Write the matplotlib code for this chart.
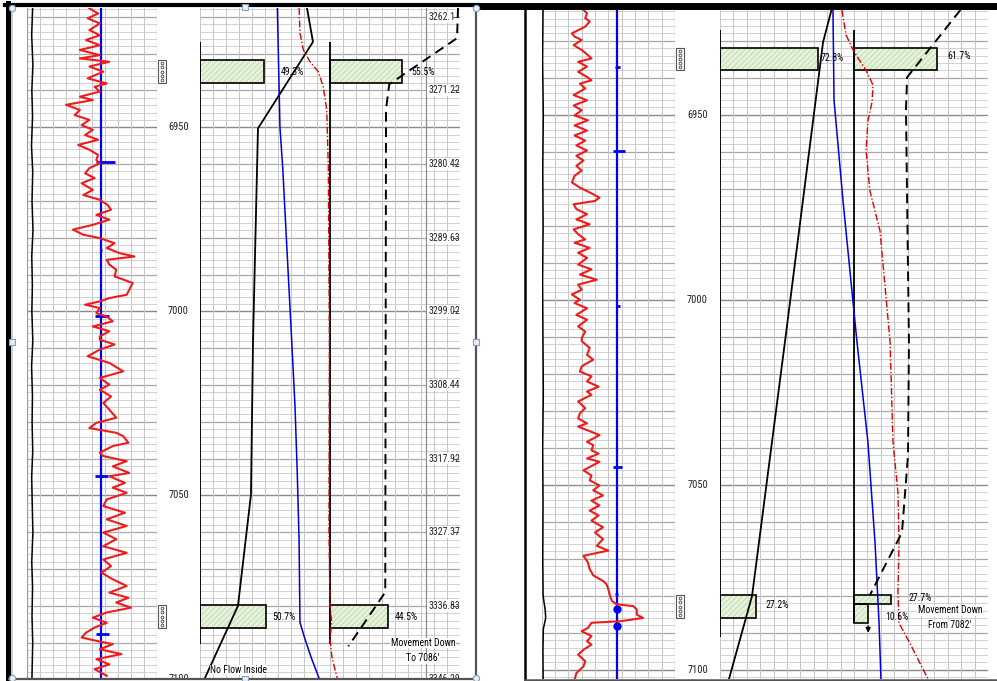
import numpy as np
import matplotlib.pyplot as plt
from matplotlib import font_manager
from matplotlib.patches import Rectangle
from matplotlib.lines import Line2D

# narrow face for the log annotations if one is installed
_names = {f.name for f in font_manager.fontManager.ttflist}
_narrow = [n for n in ['Liberation Sans Narrow', 'Arial Narrow', 'Roboto Condensed',
                       'Open Sans Condensed', 'Noto Sans Condensed'] if n in _names]
if _narrow:
    plt.rcParams['font.family'] = [_narrow[0], 'Liberation Sans', 'DejaVu Sans']
    FS_DEPTH, FS_SEC, FS_TXT = 7.5, 7, 7
else:
    plt.rcParams['font.family'] = ['Liberation Sans', 'DejaVu Sans']
    FS_DEPTH, FS_SEC, FS_TXT = 6.6, 5.8, 6.3
plt.rcParams['hatch.linewidth'] = 0.5

W, H = 997, 681

# ---------------- left log (run 1) ----------------
gr_L_depth = [6917.7, 6919.1, 6920.4, 6921.8, 6923.6, 6925.0, 6926.3, 6927.7, 6929.0, 6930.4,
              6931.3, 6932.2, 6933.5, 6934.9, 6936.7, 6938.1, 6939.0, 6940.3, 6941.7, 6942.6,
              6943.9, 6945.3, 6946.7, 6948.0, 6949.4, 6950.7, 6952.1, 6953.4, 6954.8, 6956.1,
              6957.5, 6958.9, 6959.8, 6961.1, 6962.5, 6963.8, 6965.2, 6967.0, 6968.4, 6969.7,
              6971.1, 6972.4, 6973.8, 6975.1, 6976.5, 6977.8, 6979.2, 6980.1, 6981.5, 6982.8,
              6984.2, 6985.1, 6986.0, 6987.3, 6988.7, 6990.5, 6992.3, 6994.1, 6995.5, 6996.4,
              6997.3, 6998.2, 6999.1, 7000.5, 7001.4, 7002.7, 7004.1, 7005.4, 7006.8,
              7007.7, 7009.0, 7010.4, 7012.2, 7014.0, 7016.3, 7018.1, 7019.9, 7021.3, 7023.1,
              7024.9, 7026.7, 7028.9, 7030.3, 7031.7, 7033.0, 7033.9, 7035.7, 7036.6, 7038.4,
              7039.3, 7040.7, 7042.1, 7043.9, 7044.8, 7046.6, 7047.9, 7049.3, 7051.1, 7052.9,
              7054.7, 7056.5, 7058.3, 7060.1, 7061.9, 7063.8, 7065.6, 7067.4, 7069.2, 7071.0,
              7072.8, 7074.6, 7076.4, 7077.8, 7079.1, 7080.5, 7081.8, 7083.2, 7084.6, 7085.9,
              7087.3, 7088.6, 7089.5, 7090.4, 7091.8, 7093.1, 7094.5, 7095.9, 7097.2, 7099.0]
gr_L = [72, 82, 70, 84, 72, 84, 68, 84, 61, 84,
        61, 95, 72, 88, 70, 92, 78, 84, 61, 76,
        45, 61, 55, 72, 63, 76, 67, 82, 59, 72,
        82, 80, 84, 72, 67, 78, 63, 76, 65, 84,
        93, 97, 80, 95, 76, 53, 65, 84, 101, 92,
        107, 124, 92, 95, 103, 101, 122, 118, 115, 95,
        84, 67, 84, 80, 92, 99, 76, 95, 84,
        84, 101, 84, 70, 95, 111, 84, 95, 84, 97,
        88, 95, 103, 80, 72, 103, 111, 117, 99, 84,
        88, 115, 99, 118, 95, 113, 99, 115, 92, 88,
        113, 92, 115, 88, 103, 88, 115, 88, 97, 86,
        99, 115, 95, 117, 103, 120, 92, 76, 92, 78,
        68, 63, 80, 99, 84, 109, 80, 95, 78, 92]
cal_L_depth = [6917.6, 6925, 6933, 6940, 6947, 6955, 6962, 6970, 6978, 6985, 6993, 7000, 7008,
               7015, 7023, 7030, 7038, 7045, 7053, 7060, 7068, 7075, 7083, 7090, 7099.6]
cal_L = [6.5, 5.4, 6.8, 5.6, 6.4, 5.2, 6.6, 5.8, 6.9, 5.5, 6.2, 5.6, 6.7,
         5.3, 6.3, 5.9, 6.6, 5.4, 6.1, 6.8, 5.5, 6.4, 5.8, 6.6, 5.7]
ccl_L_base = 85
ccl_L_depth = [6959.3, 6983.3, 7001.4, 7044.6, 7087.7]
ccl_L_lo = [80, 84, 78, 78, 80]
ccl_L_hi = [101, 87, 95, 93, 95]

bar_L_top = [6931.7, 7079.9, 6931.7, 7079.9]
bar_L_bot = [6938.0, 7085.9, 6938.0, 7085.9]
bar_L_pct = [49.3, 50.7, 55.5, 44.5]
bar_L_grp = [0, 0, 1, 1]

solid_L_depth = [6917.6, 6926.8, 6950.3, 7007.7, 7049.8, 7080.0, 7099.6]
solid_L = [82.3, 86.9, 44.6, 40.8, 39.2, 29.2, 3.8]
blue_L_depth = [6917.6, 6950.0, 6960.8, 7007.7, 7025.9, 7043.8, 7062.0, 7084.5, 7089.1, 7094.0, 7099.6]
blue_L = [59.5, 61.5, 63.6, 70.5, 73.1, 74.8, 76.2, 76.9, 80.8, 85.5, 91.5]
red_L_depth = [6917.6, 6924.4, 6929.0, 6932.2, 6934.9, 6939.0, 6945.3, 6960.7, 7007.7, 7060.0,
               7080.2, 7084.5, 7089.1, 7094.0, 7099.6]
red_L = [76.2, 76.9, 79.5, 84.6, 91.0, 94.8, 97.5, 98.7, 99.5, 99.2, 100.0, 101.3, 100.0, 101.5, 105.5]
dash_L_depth = [6917.6, 6925.8, 6938.3, 6945.0, 7076.3, 7091.0]
dash_L = [198.5, 197.7, 145.6, 143.1, 142.5, 114.1]

sec_depth = [6920, 6940, 6960, 6980, 7000, 7020, 7040, 7060, 7080, 7100]
sec_labels = ['3262.1', '3271.22', '3280.42', '3289.63', '3299.02', '3308.44',
              '3317.92', '3327.37', '3336.83', '3346.29']

# ---------------- right log (run 2) ----------------
gr_R_depth = [6921.2, 6922.6, 6923.9, 6924.8, 6926.2, 6928.0, 6928.9, 6929.8, 6931.2, 6932.5,
              6933.9, 6934.8, 6935.7, 6937.0, 6938.4, 6939.8, 6940.7, 6941.6, 6942.9, 6944.7,
              6946.1, 6947.5, 6948.8, 6950.2, 6951.5, 6952.9, 6954.3, 6955.6, 6957.0, 6958.3,
              6959.7, 6961.1, 6962.4, 6963.8, 6965.1, 6966.5, 6968.3, 6969.7, 6971.0, 6972.4,
              6973.3, 6974.2, 6975.5, 6976.9, 6978.3, 6979.6, 6981.0, 6982.3, 6983.7, 6984.6,
              6986.0, 6987.3, 6988.7, 6990.5, 6991.8, 6993.2, 6994.6, 6995.9, 6997.3, 6998.6,
              7000.0, 7000.9, 7002.3, 7004.1, 7005.4, 7007.2, 7008.6, 7010.4,
              7011.2, 7013.0, 7014.9, 7016.2, 7018.0, 7019.4, 7020.7, 7022.1, 7023.5, 7024.8,
              7025.7, 7027.5, 7029.3, 7030.7, 7032.1, 7033.4, 7034.3, 7035.7, 7036.6, 7038.4,
              7039.3, 7040.7, 7041.6, 7042.9, 7043.8, 7046.1, 7047.5, 7048.8, 7050.2, 7051.5,
              7052.9, 7054.3, 7055.6, 7057.0, 7058.3, 7059.7, 7061.5, 7062.9, 7064.7, 7066.5,
              7067.8, 7069.2, 7071.0, 7072.8, 7074.5, 7076.0, 7076.9, 7078.3, 7080.1, 7081.4,
              7082.3, 7082.8, 7083.7, 7085.1, 7086.0, 7086.9, 7087.3, 7088.7, 7089.6, 7090.9,
              7092.3, 7093.2, 7094.6, 7095.9, 7097.7, 7099.1, 7100.9, 7102.7]
gr_R = [45, 51, 49, 54, 49, 34, 37, 45, 36, 45,
        52, 56, 41, 51, 41, 51, 56, 43, 49, 36,
        51, 36, 45, 37, 52, 37, 51, 37, 49, 39,
        51, 39, 47, 39, 45, 37, 34, 43, 54, 65,
        60, 36, 39, 51, 39, 54, 36, 41, 49, 37,
        54, 41, 51, 41, 56, 43, 62, 41, 45, 34,
        43, 37, 51, 39, 51, 41, 49, 45,
        45, 54, 51, 58, 45, 43, 56, 51, 64, 51,
        56, 41, 49, 43, 41, 51, 41, 56, 65, 51,
        58, 56, 64, 51, 65, 47, 56, 54, 65, 58,
        69, 56, 65, 54, 64, 56, 69, 60, 69, 62,
        75, 47, 52, 54, 58, 69, 73, 75, 77, 79,
        84, 103, 107, 107, 114, 88, 56, 52, 45, 56,
        51, 56, 47, 41, 49, 47, 39, 37]
cal_R_depth = [6921.7, 6935, 6950, 6965, 6980, 6995, 7010, 7025, 7040, 7055, 7070, 7080,
               7084, 7086, 7089, 7095, 7102.5]
cal_R = [1.5, 1.0, 1.8, 1.2, 1.6, 1.0, 1.4, 1.8, 1.1, 1.5, 1.2, 1.6, 4.0, 4.5, 1.8, 1.4, 1.6]
ccl_R_base = 84.3
ccl_R_depth = [6937.0, 6959.7, 7001.8, 7045.2, 7079.6]
ccl_R_lo = [82, 80.5, 83.5, 80.5, 83]
ccl_R_hi = [88, 93.6, 88, 90, 86]
ccl_R_blob = [7083.7, 7088.2]

bar_R_top = [6932.0, 7079.8, 6932.0, 7079.8, 7082.3]
bar_R_bot = [6938.0, 7086.1, 6938.0, 7082.3, 7087.4]
bar_R_pct = [72.8, 27.2, 61.7, 27.7, 10.6]
bar_R_grp = [0, 0, 1, 1, 1]

solid_R_depth = [6921.7, 6930.4, 7011.3, 7080.1, 7102.5]
solid_R = [83.2, 76.9, 48.5, 23.9, 6.7]
blue_R_depth = [6921.7, 6946.1, 6973.3, 7011.3, 7038.5, 7065.7, 7087.4, 7102.5]
blue_R = [84.3, 85.1, 91.8, 102.2, 110.4, 115.7, 118.7, 120.1]
red_R_depth = [6921.7, 6928.4, 6933.0, 6938.0, 6942.0, 6946.5, 6951.6, 6959.7, 6970.6, 6981.4,
               7011.3, 7038.5, 7052.1, 7065.7, 7079.3, 7087.4, 7092.9, 7102.5]
red_R = [91.0, 94.0, 100.0, 109.0, 114.2, 113.5, 110.4, 109.0, 111.9, 119.4,
         126.9, 129.1, 132.8, 133.6, 132.8, 133.6, 141.8, 155.2]
dash_R_depth = [6921.7, 6939.9, 6948.8, 7011.3, 7042.0, 7062.9, 7079.8]
dash_R = [179.4, 139.6, 138.8, 141.0, 140.3, 135.8, 111.9]

depth_labels = [6950, 7000, 7050, 7100]


def box(x0, y0, x1, y1):
    return [x0 / W, 1 - y1 / H, (x1 - x0) / W, (y1 - y0) / H]


def grid_track(ax, dtop, dbot, xmax, xstep):
    ax.set_xlim(0, xmax)
    ax.set_ylim(dbot, dtop)
    for d in range(int(dtop) // 2 * 2 + 2, int(dbot) + 1, 2):
        if d % 50 == 0:
            c, lw = '#8a8a8a', 1.0
        elif d % 10 == 0:
            c, lw = '#a8a8a8', 0.9
        else:
            c, lw = '#d2d2d2', 0.7
        ax.axhline(d, color=c, lw=lw, zorder=0)
    for x in np.arange(0, xmax + 0.01, xstep):
        ax.axvline(x, color='#c6c6c6', lw=0.7, zorder=0)
    ax.set_xticks([])
    ax.set_yticks([])
    for s in ax.spines.values():
        s.set_visible(False)


def depth_col(ax, dtop, dbot, perf_top, perf_bot):
    ax.set_xlim(0, 1)
    ax.set_ylim(dbot, dtop)
    ax.axis('off')
    for d in depth_labels:
        ax.text(0.5, d, str(d), ha='center', va='center', fontsize=FS_DEPTH, color='#222222', clip_on=True)
    for t, b in zip(perf_top, perf_bot):
        ax.add_patch(Rectangle((0.03, t), 0.17, b - t, facecolor='white', edgecolor='#555555', lw=0.8))
        ax.plot([0.115] * 5, np.linspace(t + 0.8, b - 0.8, 5), 'o', ms=2.0,
                mfc='white', mec='#444444', mew=0.6)


def bars(ax, top, bot, pct, grp):
    top = np.array(top)
    bot = np.array(bot)
    ctr = (top + bot) / 2
    hgt = bot - top
    left = np.array(grp) * 100
    ax.barh(ctr, pct, hgt, left=left, color='#e6f2dc', edgecolor='#b5d69c', hatch='//////', lw=0, zorder=2)
    ax.barh(ctr, pct, hgt, left=left, fill=False, edgecolor='black', lw=1.2, zorder=3)


fig = plt.figure(figsize=(W / 100, H / 100), dpi=100)

# ======== left panel ========
dL0, dL1 = 6917.6, 7099.6
a1 = fig.add_axes(box(27, 8, 157, 678))
grid_track(a1, dL0, dL1, 150, 15)
a1.plot(cal_L, cal_L_depth, color='black', lw=1.1)
a1.axvline(ccl_L_base, color='#0000ee', lw=1.6, zorder=3)
a1.hlines(ccl_L_depth, ccl_L_lo, ccl_L_hi, color='#0000ee', lw=2.0, zorder=3)
a1.plot(gr_L, gr_L_depth, color='#ee1c1c', lw=1.5, zorder=4)
a1.axvline(0, color='#9a9a9a', lw=0.9)
a1.axvline(150, color='#9a9a9a', lw=0.9)

ad = fig.add_axes(box(157, 8, 200, 678))
depth_col(ad, dL0, dL1, bar_L_top[:2], bar_L_bot[:2])

a2 = fig.add_axes(box(200, 8, 460, 678))
grid_track(a2, dL0, dL1, 200, 10)
a2.axvline(173.8, color='#8a8a8a', lw=0.9, zorder=1)
for d, s in zip(sec_depth, sec_labels):
    a2.text(175.5, d, s, ha='left', va='center', fontsize=FS_SEC, color='#222222', clip_on=True,
            bbox=dict(facecolor='white', edgecolor='none', pad=0.6), zorder=1.5)
    a2.plot([194.5, 198.5], [d, d], color='#555555', lw=0.8, zorder=1.6)
bars(a2, bar_L_top, bar_L_bot, bar_L_pct, bar_L_grp)
a2.vlines([0, 100], 6926.8, 7090.4, color='black', lw=1.3, zorder=3)
a2.plot(solid_L, solid_L_depth, color='black', lw=1.3, zorder=5)
a2.plot(blue_L, blue_L_depth, color='#0000dd', lw=1.1, zorder=5)
a2.plot(red_L, red_L_depth, color='#e00000', lw=1.0, ls=(0, (5, 1.5, 1, 1.5)), zorder=5)
a2.plot(dash_L, dash_L_depth, color='black', lw=1.4, ls=(0, (5, 3)), zorder=5)
lab_gap_L = [12.7, 4.5, 7, 5.5]
for t, b, p, g, o in zip(bar_L_top, bar_L_bot, bar_L_pct, bar_L_grp, lab_gap_L):
    a2.text(g * 100 + p + o, (t + b) / 2, f'{p}%', ha='left', va='center', fontsize=FS_TXT, zorder=6)
a2.text(171.5, 7090.1, 'Movement Down', ha='center', va='center', fontsize=FS_TXT,
        bbox=dict(facecolor='white', edgecolor='none', pad=0.3), zorder=6)
a2.text(171.5, 7094.3, "To 7086'", ha='center', va='center', fontsize=FS_TXT,
        bbox=dict(facecolor='white', edgecolor='none', pad=0.3), zorder=6)
a2.text(7.7, 7097.4, 'No Flow Inside', ha='left', va='center', fontsize=FS_TXT,
        bbox=dict(facecolor='white', edgecolor='none', pad=0.3), zorder=6)

# ======== right panel ========
dR0, dR1 = 6921.7, 7102.5
b1 = fig.add_axes(box(541.7, 10, 675, 679))
grid_track(b1, dR0, dR1, 150, 15)
b1.plot(cal_R, cal_R_depth, color='black', lw=1.1)
b1.axvline(ccl_R_base, color='#0000ee', lw=1.6, zorder=3)
b1.hlines(ccl_R_depth, ccl_R_lo, ccl_R_hi, color='#0000ee', lw=2.0, zorder=3)
b1.plot([ccl_R_base] * len(ccl_R_blob), ccl_R_blob, 'o', color='#0000ee', ms=5, zorder=3)
b1.plot(gr_R, gr_R_depth, color='#ee1c1c', lw=1.5, zorder=4)
b1.axvline(150, color='#9a9a9a', lw=0.9)

bd = fig.add_axes(box(675, 10, 720, 679))
depth_col(bd, dR0, dR1, bar_R_top[:2], bar_R_bot[:2])

b2 = fig.add_axes(box(720, 10, 988, 679))
grid_track(b2, dR0, dR1, 200, 10)
bars(b2, bar_R_top, bar_R_bot, bar_R_pct, bar_R_grp)
b2.vlines([0], 6927.1, 7091.2, color='black', lw=1.3, zorder=3)
b2.vlines([100], 6927.1, 7087.4, color='black', lw=1.3, zorder=3)
b2.plot(solid_R, solid_R_depth, color='black', lw=1.3, zorder=5)
b2.plot(blue_R, blue_R_depth, color='#0000dd', lw=1.1, zorder=5)
b2.plot(red_R, red_R_depth, color='#e00000', lw=1.0, ls=(0, (5, 1.5, 1, 1.5)), zorder=5)
b2.plot(dash_R, dash_R_depth, color='black', lw=1.4, ls=(0, (5, 3)), zorder=5)
lab_gap_R = [2.3, 7, 8, 13, 13]
lab_d_R = [6934.7, 7082.5, 6934.2, 7080.6, 7085.7]
for p, g, o, d in zip(bar_R_pct, bar_R_grp, lab_gap_R, lab_d_R):
    b2.text(g * 100 + p + o, d, f'{p}%', ha='left', va='center', fontsize=FS_TXT, zorder=6)
b2.annotate('', xy=(100 + bar_R_pct[-1], 7090.8), xytext=(100 + bar_R_pct[-1], bar_R_bot[-1]),
            arrowprops=dict(arrowstyle='-|>', color='black', lw=1.0, mutation_scale=7), zorder=6)
b2.text(171.6, 7083.9, 'Movement Down', ha='center', va='center', fontsize=FS_TXT,
        bbox=dict(facecolor='white', edgecolor='none', pad=0.3), zorder=6)
b2.text(171.6, 7088.0, "From 7082'", ha='center', va='center', fontsize=FS_TXT,
        bbox=dict(facecolor='white', edgecolor='none', pad=0.3), zorder=6)


# ======== frames ========
def fline(x0, y0, x1, y1, **kw):
    fig.add_artist(Line2D([x0 / W, x1 / W], [1 - y0 / H, 1 - y1 / H], transform=fig.transFigure, **kw))


fline(5, 5, 478, 5, color='black', lw=3.0)
fline(478, 5.5, 997, 5.5, color='black', lw=5.0)
fline(7.5, 3, 7.5, 681, color='black', lw=3.6)
fline(12, 8, 12, 678, color='#b8c4d0', lw=1.2)
fline(476, 6, 476, 679, color='#555555', lw=1.6)
fline(9, 678.7, 477, 678.7, color='#555555', lw=1.6)
fline(525, 5, 525, 681, color='black', lw=1.8)
fline(525, 680, 997, 680, color='#555555', lw=1.8)

for hx, hy in [(12, 8), (476, 8), (12, 678), (476, 678)]:
    fig.add_artist(Line2D([hx / W], [1 - hy / H], marker='o', ms=4.5, mfc='#e8eef5', mec='#8aa0b8',
                          mew=0.8, transform=fig.transFigure))
for hx, hy in [(245, 7), (245, 679), (12, 342), (476, 342)]:
    fig.add_artist(Line2D([hx / W], [1 - hy / H], marker='s', ms=4.0, mfc='#e8eef5', mec='#8aa0b8',
                          mew=0.8, transform=fig.transFigure))

fig.savefig('out.png', dpi=100)
